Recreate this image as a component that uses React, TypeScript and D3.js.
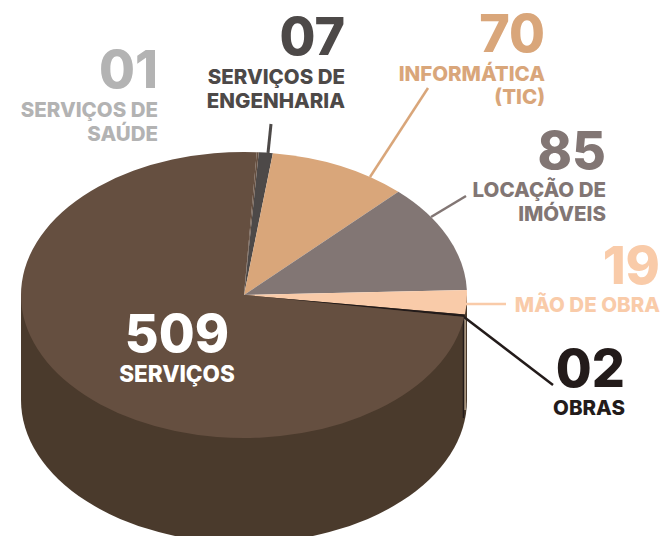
import React from "react";
import * as d3 from "d3";

const categories = ["SERVIÇOS DE ENGENHARIA", "INFORMÁTICA (TIC)", "LOCAÇÃO DE IMÓVEIS", "MÃO DE OBRA", "OBRAS", "SERVIÇOS", "SERVIÇOS DE SAÚDE"];
const values = [7, 70, 85, 19, 2, 509, 1];
const colors = ["#4d4948", "#d9a67a", "#827674", "#f9cba9", "#231b1a", "#654f40", "#654f40"];
const sideColor = "#4a3a2c";

const W = 662, H = 536;
const cx = 244, cy = 295, rx = 223, ry = 143, depth = 105;
const font = "Inter, Lato, 'Open Sans', sans-serif";

type Label = { num: string; lines: string[]; color: string; x: number; numY: number; lineY: number[]; anchor: string; numSize: number; size: number };
const labels: Label[] = [
  { num: "01", lines: ["SERVIÇOS DE", "SAÚDE"], color: "#b3b3b3", x: 158, numY: 88, lineY: [117, 141], anchor: "end", numSize: 52, size: 20.5 },
  { num: "07", lines: ["SERVIÇOS DE", "ENGENHARIA"], color: "#4d4948", x: 345, numY: 55, lineY: [84, 108], anchor: "end", numSize: 52, size: 20.5 },
  { num: "70", lines: ["INFORMÁTICA", "(TIC)"], color: "#d9a67a", x: 545, numY: 52, lineY: [81, 104], anchor: "end", numSize: 52, size: 20.5 },
  { num: "85", lines: ["LOCAÇÃO DE", "IMÓVEIS"], color: "#827674", x: 606, numY: 169, lineY: [197, 221], anchor: "end", numSize: 52, size: 20.5 },
  { num: "19", lines: ["MÃO DE OBRA"], color: "#f9cba9", x: 660, numY: 284, lineY: [312], anchor: "end", numSize: 52, size: 20.5 },
  { num: "02", lines: ["OBRAS"], color: "#231b1a", x: 625, numY: 387, lineY: [415], anchor: "end", numSize: 52, size: 20.5 },
  { num: "509", lines: ["SERVIÇOS"], color: "#ffffff", x: 177, numY: 352, lineY: [382], anchor: "middle", numSize: 52, size: 22.5 },
];

const leaders: { color: string; pts: [number, number][]; w: number }[] = [
  { color: "#4d4948", pts: [[271, 124], [268, 153]], w: 3 },
  { color: "#d9a67a", pts: [[428, 88], [370, 177]], w: 2.5 },
  { color: "#827674", pts: [[466, 196], [431, 217]], w: 2.5 },
  { color: "#f9cba9", pts: [[506, 304], [466, 304]], w: 2.5 },
  { color: "#231b1a", pts: [[553, 385], [464, 317]], w: 2.5 },
];
const edgeStripe: [number, number][] = [[463.5, 318], [463.5, 418]];

export default function App() {
  const pie = d3.pie<number>().sort(null).startAngle((3.8 * Math.PI) / 180).endAngle(((3.8 + 360) * Math.PI) / 180);
  const arcs = pie(values);
  const arc = d3.arc<d3.PieArcDatum<number>>().innerRadius(0).outerRadius(rx);
  const line = d3.line();
  const xs = d3.scaleLinear().domain([-rx, rx]).range([cx - rx, cx + rx]);
  const ys = d3.scaleLinear().domain([-rx, rx]).range([cy - ry, cy + ry]);
  return (
    <svg width={W} height={H} style={{ position: "fixed", left: 0, top: 0, background: "#fff" }} fontFamily={font}>
      <path
        d={`M${xs(-rx)},${ys(0)} V${ys(0) + depth} A${rx},${ry} 0 0 0 ${xs(rx)},${ys(0) + depth} V${ys(0)} Z`}
        fill={sideColor}
      />
      <path d={`M464.5,318 V410`} stroke="#a8957f" strokeWidth={3} fill="none" />
      <path d={line(edgeStripe) ?? ""} stroke="#231b1a" strokeWidth={1.5} fill="none" />
      <g transform={`translate(${cx},${cy}) scale(1,${ry / rx})`}>
        {arcs.map((a, i) => (
          <path key={categories[i]} d={arc(a) ?? ""} fill={colors[i]} />
        ))}
      </g>
      {leaders.map((l, i) => (
        <path key={i} d={line(l.pts) ?? ""} stroke={l.color} strokeWidth={l.w} fill="none" />
      ))}
      {labels.map((l) => (
        <g key={l.num} fill={l.color} textAnchor={l.anchor} fontWeight={800}>
          <text x={l.x} y={l.numY} fontSize={l.numSize}>{l.num}</text>
          {l.lines.map((t, i) => (
            <text key={t} x={l.x} y={l.lineY[i]} fontSize={l.size}>{t}</text>
          ))}
        </g>
      ))}
    </svg>
  );
}
